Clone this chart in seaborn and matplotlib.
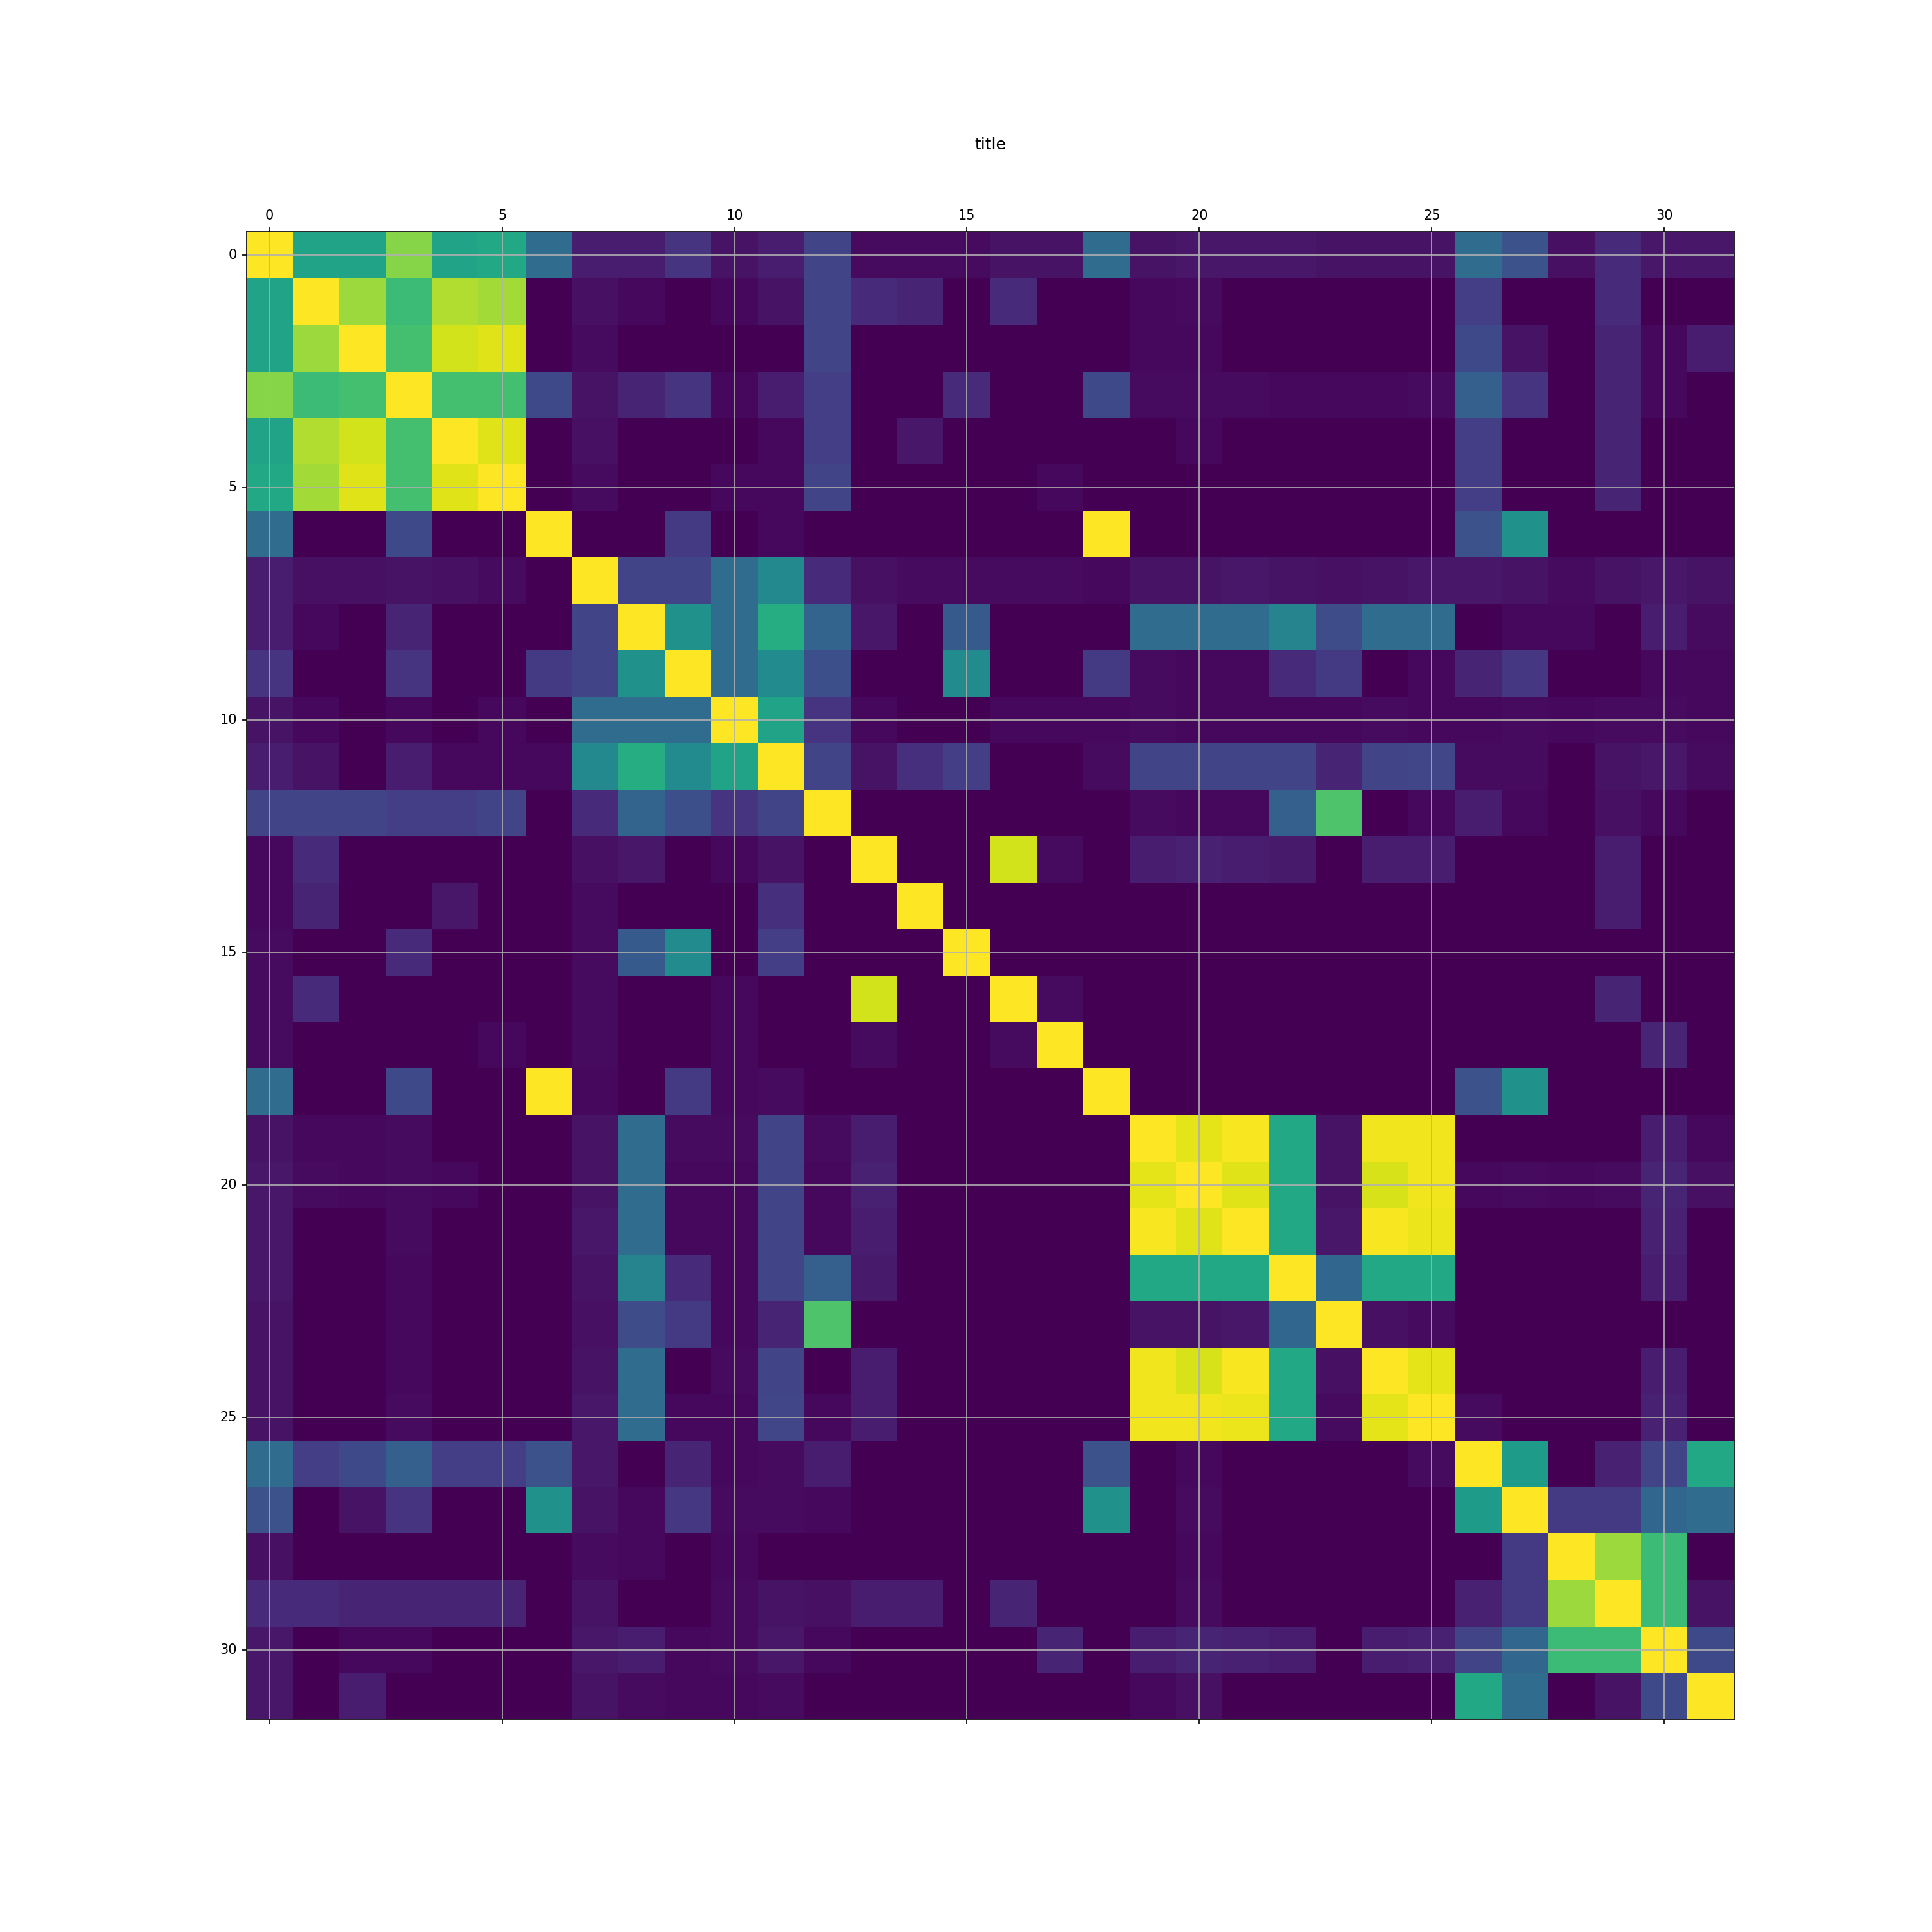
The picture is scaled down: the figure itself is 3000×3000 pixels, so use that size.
import numpy as np
import pandas as pd
import seaborn as sns
from matplotlib import pyplot as plt

# abs correlation matrix
r00 = [1.0, 0.58, 0.58, 0.82, 0.58, 0.6, 0.35, 0.08, 0.08, 0.15, 0.05, 0.08, 0.2, 0.03, 0.03, 0.03, 0.05, 0.05, 0.35, 0.05, 0.06, 0.06, 0.06, 0.05, 0.05, 0.05, 0.35, 0.25, 0.04, 0.12, 0.06, 0.06]
r01 = [0.58, 1, 0.85, 0.68, 0.88, 0.86, 0, 0.04, 0.02, 0, 0.02, 0.05, 0.2, 0.12, 0.1, 0, 0.12, 0, 0, 0.02, 0.03, 0, 0, 0, 0, 0, 0.18, 0, 0, 0.12, 0, 0]
r02 = [0.58, 0.85, 1, 0.7, 0.93, 0.95, 0, 0.03, 0, 0, 0, 0, 0.2, 0, 0, 0, 0, 0, 0, 0.02, 0.02, 0, 0, 0, 0, 0, 0.22, 0.05, 0, 0.1, 0.02, 0.08]
r03 = [0.82, 0.68, 0.7, 1, 0.7, 0.7, 0.22, 0.05, 0.1, 0.15, 0.02, 0.08, 0.18, 0, 0, 0.12, 0, 0, 0.22, 0.03, 0.03, 0.03, 0.02, 0.02, 0.02, 0.03, 0.3, 0.15, 0, 0.1, 0.02, 0]
r04 = [0.58, 0.88, 0.93, 0.7, 1, 0.95, 0, 0.04, 0, 0, 0, 0.02, 0.18, 0, 0.06, 0, 0, 0, 0, 0, 0.02, 0, 0, 0, 0, 0, 0.18, 0, 0, 0.1, 0, 0]
r05 = [0.6, 0.86, 0.95, 0.7, 0.95, 1, 0, 0.03, 0, 0, 0.02, 0.02, 0.2, 0, 0, 0, 0, 0.02, 0, 0, 0, 0, 0, 0, 0, 0, 0.18, 0, 0, 0.1, 0, 0]
r06 = [0.35, 0, 0, 0.22, 0, 0, 1, 0, 0, 0.17, 0, 0.02, 0, 0, 0, 0, 0, 0, 1.0, 0, 0, 0, 0, 0, 0, 0, 0.25, 0.5, 0, 0, 0, 0]
r07 = [0.08, 0.04, 0.04, 0.05, 0.04, 0.03, 0, 1, 0.2, 0.2, 0.35, 0.47, 0.12, 0.04, 0.03, 0.03, 0.03, 0.03, 0.02, 0.05, 0.05, 0.06, 0.05, 0.04, 0.05, 0.06, 0.06, 0.05, 0.03, 0.05, 0.06, 0.05]
r08 = [0.08, 0.02, 0, 0.1, 0, 0, 0, 0.2, 1, 0.5, 0.35, 0.62, 0.32, 0.06, 0, 0.28, 0, 0, 0, 0.35, 0.35, 0.35, 0.45, 0.23, 0.35, 0.35, 0, 0.02, 0.02, 0, 0.08, 0.03]
r09 = [0.15, 0, 0, 0.15, 0, 0, 0.17, 0.2, 0.5, 1, 0.35, 0.48, 0.24, 0, 0, 0.48, 0, 0, 0.17, 0.03, 0.02, 0.02, 0.12, 0.17, 0, 0.02, 0.1, 0.16, 0, 0, 0.02, 0.02]
r10 = [0.05, 0.02, 0, 0.02, 0, 0.02, 0, 0.35, 0.35, 0.35, 1, 0.58, 0.15, 0.02, 0, 0, 0.02, 0.02, 0.02, 0.03, 0.02, 0.02, 0.02, 0.02, 0.03, 0.02, 0.02, 0.03, 0.02, 0.03, 0.03, 0.02]
r11 = [0.08, 0.05, 0, 0.08, 0.02, 0.02, 0.02, 0.47, 0.62, 0.48, 0.58, 1, 0.2, 0.05, 0.14, 0.18, 0, 0, 0.03, 0.2, 0.2, 0.2, 0.2, 0.1, 0.2, 0.21, 0.03, 0.03, 0, 0.05, 0.06, 0.03]
r12 = [0.2, 0.2, 0.2, 0.18, 0.18, 0.2, 0, 0.12, 0.32, 0.24, 0.15, 0.2, 1, 0, 0, 0, 0, 0, 0, 0.03, 0.02, 0.02, 0.3, 0.72, 0, 0.02, 0.08, 0.02, 0, 0.04, 0.02, 0]
r13 = [0.02, 0.12, 0, 0, 0, 0, 0, 0.04, 0.06, 0, 0.02, 0.05, 0, 1, 0, 0, 0.93, 0.03, 0, 0.08, 0.09, 0.08, 0.07, 0, 0.08, 0.08, 0, 0, 0, 0.08, 0, 0]
r14 = [0.02, 0.1, 0, 0, 0.06, 0, 0, 0.03, 0, 0, 0, 0.14, 0, 0, 1, 0, 0, 0, 0, 0, 0, 0, 0, 0, 0, 0, 0, 0, 0, 0.08, 0, 0]
r15 = [0.03, 0, 0, 0.12, 0, 0, 0, 0.03, 0.28, 0.48, 0, 0.18, 0, 0, 0, 1, 0, 0, 0, 0, 0, 0, 0, 0, 0, 0, 0, 0, 0, 0, 0, 0]
r16 = [0.03, 0.12, 0, 0, 0, 0, 0, 0.03, 0, 0, 0.02, 0, 0, 0.93, 0, 0, 1, 0.03, 0, 0, 0, 0, 0, 0, 0, 0, 0, 0, 0, 0.1, 0, 0]
r17 = [0.03, 0, 0, 0, 0, 0.02, 0, 0.03, 0, 0, 0.02, 0, 0, 0.03, 0, 0, 0.03, 1, 0, 0, 0, 0, 0, 0, 0, 0, 0, 0, 0, 0, 0.1, 0]
r18 = [0.35, 0, 0, 0.22, 0, 0, 1, 0.02, 0, 0.17, 0.02, 0.03, 0, 0, 0, 0, 0, 0, 1, 0, 0, 0, 0, 0, 0, 0, 0.25, 0.5, 0, 0, 0, 0]
r19 = [0.05, 0.02, 0.02, 0.03, 0, 0, 0, 0.05, 0.35, 0.03, 0.03, 0.2, 0.03, 0.08, 0, 0, 0, 0, 0, 1, 0.96, 0.99, 0.6, 0.05, 0.98, 0.98, 0, 0, 0, 0, 0.08, 0.02]
r20 = [0.06, 0.03, 0.02, 0.03, 0.02, 0, 0, 0.05, 0.35, 0.02, 0.02, 0.2, 0.02, 0.09, 0, 0, 0, 0, 0, 0.96, 1, 0.95, 0.6, 0.05, 0.94, 0.98, 0.02, 0.03, 0.02, 0.03, 0.1, 0.04]
r21 = [0.06, 0, 0, 0.03, 0, 0, 0, 0.06, 0.35, 0.02, 0.02, 0.2, 0.02, 0.08, 0, 0, 0, 0, 0, 0.99, 0.95, 1, 0.6, 0.06, 0.99, 0.97, 0, 0, 0, 0, 0.09, 0]
r22 = [0.06, 0, 0, 0.02, 0, 0, 0, 0.05, 0.45, 0.12, 0.02, 0.2, 0.3, 0.07, 0, 0, 0, 0, 0, 0.6, 0.6, 0.6, 1, 0.33, 0.6, 0.6, 0, 0, 0, 0, 0.08, 0]
r23 = [0.05, 0, 0, 0.02, 0, 0, 0, 0.04, 0.23, 0.17, 0.02, 0.1, 0.72, 0, 0, 0, 0, 0, 0, 0.05, 0.05, 0.06, 0.33, 1, 0.04, 0.03, 0, 0, 0, 0, 0, 0]
r24 = [0.05, 0, 0, 0.02, 0, 0, 0, 0.05, 0.35, 0, 0.03, 0.2, 0, 0.08, 0, 0, 0, 0, 0, 0.98, 0.94, 0.99, 0.6, 0.04, 1, 0.96, 0, 0, 0, 0, 0.08, 0]
r25 = [0.05, 0, 0, 0.03, 0, 0, 0, 0.06, 0.35, 0.02, 0.02, 0.21, 0.02, 0.08, 0, 0, 0, 0, 0, 0.98, 0.98, 0.97, 0.6, 0.03, 0.96, 1, 0.03, 0, 0, 0, 0.09, 0]
r26 = [0.35, 0.18, 0.22, 0.3, 0.18, 0.18, 0.25, 0.06, 0, 0.1, 0.02, 0.03, 0.08, 0, 0, 0, 0, 0, 0.25, 0, 0.02, 0, 0, 0, 0, 0.03, 1, 0.55, 0, 0.09, 0.2, 0.6]
r27 = [0.25, 0, 0.05, 0.15, 0, 0, 0.5, 0.05, 0.02, 0.16, 0.03, 0.03, 0.02, 0, 0, 0, 0, 0, 0.5, 0, 0.03, 0, 0, 0, 0, 0, 0.55, 1, 0.17, 0.17, 0.33, 0.35]
r28 = [0.04, 0, 0, 0, 0, 0, 0, 0.03, 0.02, 0, 0.02, 0, 0, 0, 0, 0, 0, 0, 0, 0, 0.02, 0, 0, 0, 0, 0, 0, 0.17, 1, 0.85, 0.68, 0]
r29 = [0.12, 0.12, 0.1, 0.1, 0.1, 0.1, 0, 0.05, 0, 0, 0.03, 0.05, 0.04, 0.08, 0.08, 0, 0.1, 0, 0, 0, 0.03, 0, 0, 0, 0, 0, 0.09, 0.17, 0.85, 1, 0.68, 0.05]
r30 = [0.06, 0, 0.02, 0.02, 0, 0, 0, 0.06, 0.08, 0.02, 0.03, 0.06, 0.02, 0, 0, 0, 0, 0.1, 0, 0.08, 0.1, 0.09, 0.08, 0, 0.08, 0.09, 0.2, 0.33, 0.68, 0.68, 1, 0.22]
r31 = [0.06, 0, 0.08, 0, 0, 0, 0, 0.05, 0.03, 0.02, 0.02, 0.03, 0, 0, 0, 0, 0, 0, 0, 0.02, 0.04, 0, 0, 0, 0, 0, 0.6, 0.35, 0, 0.05, 0.22, 1]

rows = [r00, r01, r02, r03, r04, r05, r06, r07, r08, r09, r10, r11, r12, r13, r14, r15,
        r16, r17, r18, r19, r20, r21, r22, r23, r24, r25, r26, r27, r28, r29, r30, r31]
df = pd.DataFrame(rows)

tick_vals = [0, 5, 10, 15, 20, 25, 30]

fig = plt.figure(figsize=(20, 20), dpi=150)
ax = fig.add_subplot(111)
sns.heatmap(df, cmap="viridis", cbar=False, square=True, ax=ax)

# make it look like plt.matshow
for s in ax.spines.values():
    s.set_visible(True)
    s.set_linewidth(0.8)
ax.set_xticks([t + 0.5 for t in tick_vals])
ax.set_xticklabels([str(t) for t in tick_vals], rotation=0)
ax.set_yticks([t + 0.5 for t in tick_vals])
ax.set_yticklabels([str(t) for t in tick_vals], rotation=0)
ax.xaxis.set_ticks_position('both')
ax.tick_params(axis='x', labeltop=True, labelbottom=False)
ax.set_xlabel('')
ax.set_ylabel('')
ax.grid(True)
ax.set_title('title', y=1.05)

plt.savefig('out.png')
